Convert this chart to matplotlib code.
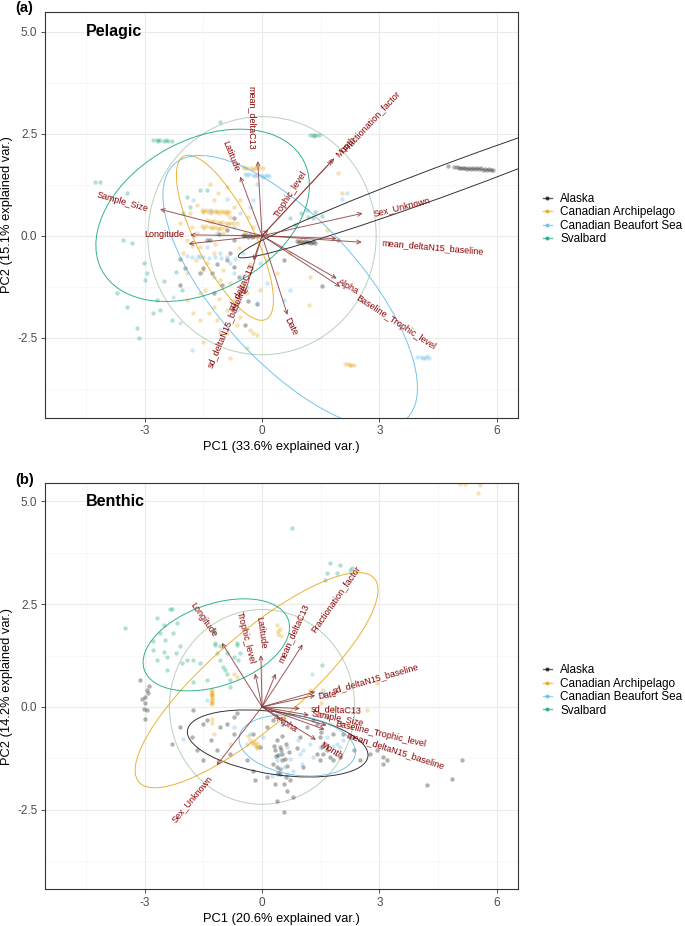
#!/usr/bin/env python3
# -*- coding: utf-8 -*-
"""
PCA biplots (pelagic / benthic) coloured by region, with 68% ellipses,
correlation circle and variable loadings.
"""

import numpy as np
import matplotlib.pyplot as plt
from matplotlib.patches import Ellipse, Circle
from matplotlib.lines import Line2D

plt.rcParams['font.family'] = ['Liberation Sans', 'DejaVu Sans']
plt.rcParams['axes.unicode_minus'] = False

REGIONS = ["Alaska", "Canadian Archipelago", "Canadian Beaufort Sea", "Svalbard"]
COLORS = ["#000000", "#E69F00", "#56B4E9", "#009E73"]

# ---------------- Pelagic (a): PC scores per region ----------------
pel_alaska = [
    (5.0, 1.68), (5.1, 1.67), (5.2, 1.67), (5.3, 1.66), (5.4, 1.66), (5.5, 1.65),
    (5.6, 1.65), (5.7, 1.64), (5.8, 1.63), (5.9, 1.62), (5.25, 1.64), (5.45, 1.63),
    (5.65, 1.62), (4.9, 1.69), (5.15, 1.65), (5.35, 1.64), (5.55, 1.63), (5.75, 1.62),
    (5.85, 1.61), (5.05, 1.66), (4.75, 1.7),
    (0.9, -0.12), (1.0, -0.13), (1.1, -0.14), (1.2, -0.15), (1.3, -0.16), (1.05, -0.17),
    (1.25, -0.18), (0.95, -0.15), (1.15, -0.16), (1.35, -0.18),
    (-0.5, 0.02), (-0.4, 0.01), (-0.3, 0.01), (-0.2, 0.0), (-0.1, 0.0), (-0.35, -0.02),
    (-0.45, -0.01), (-0.25, -0.02),
    (-2.1, -0.56), (-1.59, -0.92), (-1.29, -0.92), (-2.1, -1.21), (-1.97, -0.8),
    (-0.9, -0.6), (-0.73, -0.76), (-0.43, -2.19), (1.53, -1.23), (0.55, -0.6),
    (-1.24, -1.41), (-1.03, -1.21), (-0.14, -1.67), (-0.73, -0.1), (1.95, -0.11),
    (-1.41, -0.1), (-0.82, -0.43), (-1.5, -0.78), (-1.15, -0.7), (-0.6, -1.0),
    (-0.73, 0.43), (-0.9, 0.14), (-1.33, -0.1), (-1.1, 0.05), (-0.35, -1.6),
]
pel_archipelago = [
    (-1.54, 0.63), (-1.44, 0.62), (-1.34, 0.62), (-1.24, 0.61), (-1.14, 0.6), (-1.04, 0.6),
    (-0.94, 0.59), (-0.84, 0.58), (-1.5, 0.57), (-1.3, 0.56), (-1.1, 0.55), (-0.9, 0.54),
    (-1.49, 0.6), (-1.39, 0.59), (-1.19, 0.58), (-0.99, 0.57), (-0.89, 0.61),
    (-1.33, 0.36), (-1.23, 0.35), (-1.13, 0.34), (-1.03, 0.33), (-0.93, 0.32),
    (-0.83, 0.31), (-0.75, 0.3), (-1.28, 0.33), (-1.08, 0.31), (-0.88, 0.29),
    (-1.54, 0.24), (-1.44, 0.23), (-1.34, 0.22), (-1.24, 0.21), (-1.14, 0.2),
    (-1.04, 0.19), (-0.94, 0.18), (-1.49, 0.2), (-1.29, 0.19), (-1.09, 0.17),
    (-0.48, 1.68), (-0.38, 1.67), (-0.28, 1.67), (-0.18, 1.66), (-0.08, 1.66), (0.02, 1.65),
    (-0.43, 1.65), (-0.23, 1.64), (-0.13, 1.68),
    (2.12, -3.15), (2.2, -3.15), (2.28, -3.16), (2.36, -3.16), (2.24, -3.17),
    (1.95, 1.53), (2.04, 1.04), (1.65, 0.14), (1.19, -1.7), (1.23, -1.0), (-0.82, -3.0),
    (-0.22, -2.39), (-0.14, -2.43), (-0.39, -2.76), (-1.5, -2.6), (-1.07, -2.39),
    (-1.76, -1.9), (-1.93, -1.58), (-1.59, -1.41), (-1.67, 0.06), (-1.84, 0.55),
    (-1.33, 1.28), (-1.24, 0.87), (-1.93, -0.1), (-0.73, 0.71), (-0.56, 0.87),
    (-0.43, 0.06), (-0.99, 0.06), (-1.24, -0.43), (-1.42, -0.68), (-1.07, -1.09),
    (-0.82, -1.17), (-0.73, -1.58), (-1.16, -2.07), (-0.56, -1.99), (-0.39, -1.41),
    (-1.59, -0.27), (-1.8, 0.22), (-0.9, 1.2), (-1.12, 1.04), (-0.82, 0.47), (-0.65, 0.3),
    (-0.35, 0.47), (-0.22, 0.22), (-1.42, 0.38), (-1.67, 0.75), (-2.01, -0.43),
    (-2.27, 0.06), (-1.46, -1.33), (-1.24, -1.74), (-0.9, -1.82), (-0.05, -1.33),
    (0.12, -0.6), (0.38, -0.92), (0.72, -0.43), (0.97, -0.11), (-1.5, -0.84),
    (-1.93, -0.92), (-1.59, -2.07), (-0.31, -2.31), (-0.9, -2.39), (-1.2, -0.2),
    (-0.6, -0.3), (-1.7, -0.6), (-1.0, -0.85), (-0.5, -1.2), (-2.1, 0.3),
    (-1.8, -0.25), (-1.35, -1.9), (-0.65, -2.2), (-1.1, -1.55), (-0.3, -0.7),
]
pel_beaufort = [
    (-0.43, 1.52), (-0.33, 1.51), (-0.23, 1.5), (-0.13, 1.49), (-0.03, 1.48),
    (0.07, 1.47), (0.17, 1.46), (-0.38, 1.49), (-0.18, 1.47), (0.02, 1.45), (0.12, 1.5),
    (3.96, -2.97), (4.06, -2.98), (4.16, -2.99), (4.26, -3.0), (4.11, -3.01), (4.21, -2.96),
    (-1.93, -0.5), (-1.8, -0.52), (-1.65, -0.5), (-1.5, -0.53), (-1.35, -0.55),
    (-1.2, -0.52), (-1.05, -0.55), (-0.9, -0.53), (-0.7, -0.56),
    (2.17, 1.04), (2.05, 0.9), (-0.14, 1.28), (-0.22, 0.87), (-1.76, 0.87), (-1.8, -2.8),
    (-2.1, -2.15), (-2.27, -1.5), (-0.05, -0.68), (0.12, -1.17), (-0.14, -1.66),
    (-0.39, -1.25), (-0.73, -0.92), (-1.24, -1.0), (-1.59, -0.51), (-1.16, 0.06),
    (-0.73, 0.22), (-0.31, 0.71), (-0.56, 0.55), (0.72, -1.33), (0.55, -1.58),
    (-1.07, -0.43), (-0.82, -0.68), (-1.42, -0.27), (-0.48, -0.43), (-0.65, -1.82),
    (-1.07, -2.31), (-1.3, 0.6), (-0.9, 0.9),
]
pel_svalbard = [
    (-2.78, 2.35), (-2.7, 2.34), (-2.6, 2.34), (-2.5, 2.33), (-2.4, 2.33), (-2.31, 2.32),
    (-2.65, 2.32), (-2.45, 2.35),
    (1.23, 2.48), (1.3, 2.47), (1.38, 2.47), (1.46, 2.46), (1.34, 2.45),
    (1.14, 0.63), (1.36, 0.59), (1.18, 0.45), (1.31, 0.43), (1.53, 0.48), (0.72, 0.43),
    (0.84, 0.26), (1.0, 0.55),
    (-4.27, 1.32), (-4.14, 1.32), (-3.55, -0.11), (-3.33, -0.19), (-3.72, -1.41),
    (-3.46, -1.74), (-3.21, -2.27), (-3.16, -2.5), (-2.99, -1.09), (-2.95, -0.92),
    (-2.69, -1.58), (-2.78, -1.9), (-2.61, -1.82), (-2.31, -2.07), (-2.01, 0.55),
    (-1.93, 0.96), (-1.84, 0.71), (-1.59, 1.12), (-1.42, 1.12), (-1.07, 2.79),
    (-3.03, -0.68), (-2.05, -1.33), (-3.46, 1.04), (-2.2, -0.9), (-2.5, -1.1),
]

# ---------------- Benthic (b): PC scores per region ----------------
ben_alaska = [
    (-2.99, 0.24), (-2.95, 0.41), (-3.08, 0.2), (-3.03, -0.04), (-2.95, -0.08),
    (-2.99, -0.29), (-3.12, 0.65), (-2.91, 0.33), (-1.76, -0.08), (-2.1, -0.49),
    (-1.8, -0.73), (-1.5, -0.41), (-1.07, -0.49), (-0.73, -0.24), (-0.65, -0.16),
    (-0.22, -0.65), (-0.18, -1.79), (0.29, -0.33), (0.38, -0.81), (0.46, -0.98),
    (0.5, -1.14), (0.33, -1.06), (0.42, -1.18), (0.59, -1.26), (0.29, -1.38),
    (0.38, -1.47), (0.46, -1.63), (0.33, -1.87), (0.55, -1.87), (0.38, -2.28),
    (0.55, -2.57), (0.8, -2.2), (0.63, -2.04), (0.97, -0.73), (1.14, -0.49),
    (1.4, -0.41), (1.48, -0.73), (1.53, -0.98), (1.65, -1.06), (1.74, -1.22),
    (1.82, -1.3), (1.48, -1.3), (1.4, -1.14), (2.08, -0.65), (2.25, -0.73),
    (2.34, -1.06), (2.51, -1.3), (2.76, -1.14), (2.93, -1.06), (3.1, -1.22),
    (3.19, -1.3), (3.1, -1.38), (5.11, -1.3), (4.85, -1.75), (4.21, -1.91),
    (-0.73, -0.65), (-0.9, -0.41), (-1.42, -0.33), (-1.67, -1.06), (-1.5, -1.3),
    (-1.16, -1.06), (-0.82, -1.14), (-0.39, -1.3), (-0.05, -0.98), (0.12, -0.49),
    (-0.22, -1.55), (0.12, -1.71), (0.72, -1.79), (1.06, -1.47), (1.31, -0.33),
    (1.65, -0.24), (1.82, -0.65), (2.0, -1.22), (0.5, -0.7), (0.6, -0.9), (0.7, -1.1),
    (0.45, -1.5), (0.65, -1.45), (0.9, -1.0), (1.6, -0.9), (-2.3, -0.9), (-1.3, -0.8),
    (0.36, -1.2), (0.52, -1.3), (0.4, -1.62), (0.6, -1.7), (1.5, -0.6), (1.55, -1.15),
    (-3.0, 0.1), (-2.9, 0.5), (0.3, -0.95), (0.48, -1.05),
]
ben_archipelago = [
    (-1.29, 0.42), (-1.29, 0.35), (-1.29, 0.28), (-1.29, 0.2), (-1.29, 0.12),
    (-1.29, 0.06), (-1.31, 0.3), (-1.27, 0.16), (-1.31, 0.38), (-1.27, 0.24),
    (-1.31, 0.1), (-1.27, 0.32), (-1.27, -0.3), (-1.27, -0.4),
    (-0.35, -0.7), (-0.3, -0.8), (-0.2, -0.9), (-0.15, -0.95), (-0.12, -0.98),
    (-0.25, -0.88), (-0.1, -0.9), (-0.18, -0.85), (-0.14, -1.0),
    (0.38, 2.0), (0.45, 1.9), (0.42, 1.78), (0.48, 1.72), (0.4, 1.85),
    (5.06, 5.43), (5.19, 5.42), (5.58, 5.4), (5.53, 5.21),
    (2.93, 0.57), (2.68, -0.08), (1.57, 0.41), (1.5, 0.1), (-0.82, -0.9), (-1.24, -0.65),
    (1.82, -0.04), (1.74, -0.41), (1.23, 0.41), (-0.65, 0.73), (-0.73, 0.8), (2.25, -0.49),
]
ben_beaufort = [
    (0.38, -1.3), (0.46, -1.14), (0.55, -1.47), (0.63, -0.98), (0.72, -1.26), (0.97, -1.14),
    (1.01, -1.38), (0.93, -0.81), (1.23, -0.9), (1.82, -0.94), (1.91, -0.9), (2.0, -0.98),
    (1.87, -1.14), (-0.31, -0.65), (-0.73, -0.49), (-0.39, -0.9), (0.03, -0.73),
    (0.38, -0.16), (0.5, -0.41), (1.27, 0.81), (1.48, 0.33), (1.6, 0.35), (-2.01, -0.77),
    (-1.42, 0.16), (0.25, -1.67), (0.38, -1.63), (0.63, -1.63), (0.8, -1.55), (1.06, -1.06),
    (1.31, -1.22), (1.65, -0.73), (2.08, -0.81), (1.48, -0.98),
]
ben_svalbard = [
    (-3.5, 1.91), (-2.69, 2.16), (-2.52, 1.99), (-2.35, 2.38), (-2.3, 2.38), (-2.61, 1.79),
    (-2.48, 1.63), (-2.78, 1.38), (-2.69, 1.14), (-2.44, 1.22), (-2.52, 1.34), (-2.27, 1.79),
    (-2.18, 2.04), (-2.1, 1.47), (-1.93, 1.14), (-1.76, 1.14), (-1.59, 1.06), (-2.44, 0.9),
    (-2.05, 1.06), (-1.24, 1.83), (-1.2, 1.55), (-1.16, 1.3), (-1.07, 1.14), (-0.99, 0.98),
    (-0.9, 0.81), (-0.82, 0.65), (-0.73, 1.22), (-0.65, 1.55), (-0.61, 1.14), (-0.56, 1.3),
    (-0.9, 1.3), (-1.07, 1.47), (0.76, 4.36), (1.53, 1.02), (1.74, 3.5), (2.0, 3.46),
    (2.25, 3.34), (1.65, 3.26), (1.91, 3.26), (1.61, 3.09), (2.29, 3.38), (-0.82, 0.49),
    (-1.76, 0.61), (-1.42, 0.65), (-2.8, 1.6), (-2.2, 1.3), (-1.24, 1.88), (-0.65, 1.5),
    (-1.2, 1.5), (-0.95, 0.9),
]

# 68% normal-data ellipses: centre x, centre y, semi-axis a, semi-axis b, angle (deg)
pel_ell_cx = [5.05, -0.95, 0.72, -1.52]
pel_ell_cy = [1.49, -0.05, -1.37, 0.50]
pel_ell_a = [6.0, 2.26, 4.31, 2.91]
pel_ell_b = [0.37, 0.73, 1.78, 1.86]
pel_ell_ang = [19.5, -62.0, -46.0, 26.6]

ben_ell_cx = [0.40, -0.14, 0.90, -1.17]
ben_ell_cy = [-0.89, 0.65, -0.94, 1.51]
ben_ell_a = [2.33, 3.90, 1.50, 1.94]
ben_ell_b = [0.76, 1.14, 0.72, 1.00]
ben_ell_ang = [-7.8, 39.2, -8.0, 17.7]

pel_circle_r = 2.92
ben_circle_r = 2.37

# variable loadings (arrow tips)
pel_vars = ["mean_deltaC13", "Latitude", "Month", "Fractionation_factor", "Trophic_level",
            "Sex_Unknown", "mean_deltaN15_baseline", "Alpha", "Baseline_Trophic_level",
            "Date", "sd_deltaN15_baseline", "sd_deltaC13", "Sample_Size", "Longitude", "", ""]
pel_load_x = [-0.11, -0.56, 1.80, 1.85, 0.16, 2.57, 2.55, 1.91, 2.00, 0.65, -0.45, -0.22,
              -2.61, -1.84, 1.91, -1.88]
pel_load_y = [1.83, 1.45, 1.85, 1.90, 0.15, 0.55, -0.16, -1.05, -1.25, -1.94, -1.45, -0.60,
              0.65, 0.02, -0.07, -0.20]

ben_vars = ["Longitude", "Trophic_level", "Latitude", "mean_deltaC13", "Fractionation_factor",
            "Date", "sd_deltaN15_baseline", "sd_deltaC13", "Sample_Size",
            "Baseline_Trophic_level", "mean_deltaN15_baseline", "Alpha", "Month", "Sex_Unknown"]
ben_load_x = [-1.03, -0.18, -0.03, 0.35, 1.04, 1.36, 1.36, 0.97, 1.20, 1.65, 1.60, 0.45,
              1.38, -1.16]
ben_load_y = [1.56, 0.81, 1.26, 0.81, 1.52, 0.37, 0.28, -0.04, -0.20, -0.45, -0.55, -0.30,
              -0.80, -1.42]

# where the variable names sit (centre) and their rotation
pel_lab_x = [-0.26, -0.80, 2.15, 2.80, 0.73, 3.57, 4.36, 2.21, 3.43, 0.73, -0.90, -0.52,
             -3.57, -2.51, 0, 0]
pel_lab_y = [2.90, 1.96, 2.16, 2.82, 1.02, 0.71, -0.29, -1.26, -2.12, -2.23, -2.21, -1.25,
             0.83, 0.02, 0, 0]
pel_lab_rot = [-90, -68, 47, 47, 57, 14, -5, -29, -33, -63, 67, 65, -16, 0, 0, 0]

ben_lab_x = [-1.49, -0.41, -0.03, 0.80, 1.87, 1.68, 2.91, 1.90, 1.93, 3.03, 3.42, 0.65,
             1.76, -1.80]
ben_lab_y = [2.13, 1.69, 1.81, 1.79, 2.62, 0.28, 0.69, -0.06, -0.29, -0.65, -1.06, -0.42,
             -1.06, -2.24]
ben_lab_rot = [-55, -76, -82, 66, 55, 8, 16, -2, -11, -13, -18, -32, -32, 50]

ARROW_COL = "#8b3a3a"
LABEL_COL = "#8B0000"


def draw_panel(ax, groups, ell, radius, load, labels, title, ylim, xlab, ylab):
    """
    Dibuja un biplot completo en el eje recibido
    """
    ax.set_xlim(-5.56, 6.55)
    ax.set_ylim(*ylim)

    # correlation circle
    ax.add_patch(Circle((0, 0), radius, fill=False, color="#2f7a2f", alpha=0.3, lw=0.8))

    for pts, col in zip(groups, COLORS):
        pts = np.array(pts)
        ax.scatter(pts[:, 0], pts[:, 1], s=10, color=col, alpha=0.3, linewidths=0, zorder=2)

    cx, cy, a, b, ang = ell
    for i, col in enumerate(COLORS):
        ax.add_patch(Ellipse((cx[i], cy[i]), 2 * a[i], 2 * b[i], angle=ang[i], fill=False,
                             color=col, lw=0.7, alpha=0.8, zorder=3))

    names, lx, ly = load
    for name, x, y in zip(names, lx, ly):
        ax.annotate("", xy=(x, y), xytext=(0, 0), zorder=4,
                    arrowprops=dict(arrowstyle="->", color=ARROW_COL, lw=0.7, alpha=0.85,
                                    shrinkA=0, shrinkB=0, mutation_scale=7))

    tx, ty, rot = labels
    for name, x, y, r in zip(names, tx, ty, rot):
        if name:
            ax.text(x, y, name, color=LABEL_COL, fontsize=6.5, rotation=r,
                    ha="center", va="center", rotation_mode="anchor", zorder=5)

    ax.text(-4.5, 5.0, title, fontsize=11.5, fontweight="bold", ha="left", va="center")

    ax.set_xticks([-3, 0, 3, 6])
    ax.set_xticklabels(["-3", "0", "3", "6"])
    ax.set_yticks([-2.5, 0, 2.5, 5])
    ax.set_yticklabels(["-2.5", "0.0", "2.5", "5.0"])
    ax.set_xticks([-4.5, -1.5, 1.5, 4.5], minor=True)
    ax.set_yticks([-3.75, -1.25, 1.25, 3.75], minor=True)
    ax.grid(which="major", color="#EBEBEB", lw=0.8)
    ax.grid(which="minor", color="#F4F4F4", lw=0.5)
    ax.set_axisbelow(True)
    ax.tick_params(which="major", length=2.75, width=0.6, color="#333333",
                   labelsize=8.5, labelcolor="#4D4D4D", pad=2.5)
    ax.tick_params(which="minor", length=0)
    for s in ax.spines.values():
        s.set_color("#333333")
        s.set_linewidth(0.8)
    ax.set_xlabel(xlab, fontsize=9.3, labelpad=3)
    ax.set_ylabel(ylab, fontsize=9.3, labelpad=3)

    handles = [Line2D([0], [0], color=c, lw=1, marker="o", ms=2, alpha=0.6) for c in COLORS]
    ax.legend(handles, REGIONS, loc="center left", bbox_to_anchor=(1.052, 0.49),
              frameon=False, fontsize=8.5, handlelength=0.8, handletextpad=0.7,
              labelspacing=0.12, borderaxespad=0, borderpad=0)


fig = plt.figure(figsize=(6.85, 9.26), dpi=100)
ax_a = fig.add_axes([0.0653, 0.549, 0.691, 0.4378])
ax_b = fig.add_axes([0.0653, 0.0396, 0.691, 0.4384])

draw_panel(ax_a, [pel_alaska, pel_archipelago, pel_beaufort, pel_svalbard],
           (pel_ell_cx, pel_ell_cy, pel_ell_a, pel_ell_b, pel_ell_ang), pel_circle_r,
           (pel_vars, pel_load_x, pel_load_y), (pel_lab_x, pel_lab_y, pel_lab_rot),
           "Pelagic", (-4.46, 5.48),
           "PC1 (33.6% explained var.)", "PC2 (15.1% explained var.)")
draw_panel(ax_b, [ben_alaska, ben_archipelago, ben_beaufort, ben_svalbard],
           (ben_ell_cx, ben_ell_cy, ben_ell_a, ben_ell_b, ben_ell_ang), ben_circle_r,
           (ben_vars, ben_load_x, ben_load_y), (ben_lab_x, ben_lab_y, ben_lab_rot),
           "Benthic", (-4.44, 5.44),
           "PC1 (20.6% explained var.)", "PC2 (14.2% explained var.)")

fig.text(0.022, 0.991, "(a)", fontsize=10.5, fontweight="bold", ha="left", va="center")
fig.text(0.022, 0.4816, "(b)", fontsize=10.5, fontweight="bold", ha="left", va="center")

fig.savefig("out.png", dpi=100)
